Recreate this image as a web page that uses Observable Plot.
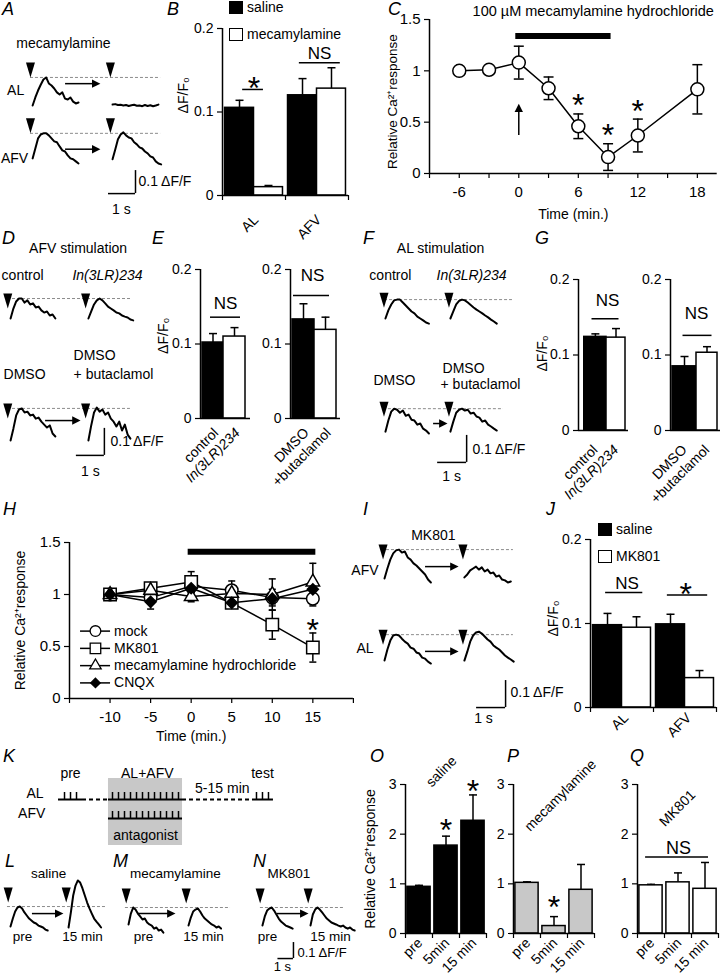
<!DOCTYPE html>
<html><head><meta charset="utf-8">
<script src="https://cdn.jsdelivr.net/npm/d3@7"></script>
<script src="https://cdn.jsdelivr.net/npm/@observablehq/plot@0.6"></script>
<style>
body{margin:0;background:#fff;}
#root{position:relative;width:720px;height:975px;overflow:hidden;font-family:"Liberation Sans",Arial,sans-serif;font-size:14px;color:#000;background:#fff;}
.lab{position:absolute;font-style:italic;font-size:18px;line-height:1;}
.leg{position:absolute;font-size:14px;line-height:14px;display:flex;align-items:center;white-space:nowrap;}
.sw{display:inline-block;width:14px;height:13px;border:1.5px solid #000;box-sizing:border-box;margin-right:4px;}
</style></head><body><div id="root"></div>
<script>
// ================= DATA =================
// B
const B_groups = ["AL", "AFV"];
const B_saline = [0.105, 0.120];
const B_salineErr = [0.009, 0.020];
const B_mec = [0.010, 0.128];
const B_mecErr = [0.002, 0.025];
// C
const C_time = [-6, -3, 0, 3, 6, 9, 12, 18];
const C_mean = [1.00, 1.01, 1.08, 0.83, 0.46, 0.16, 0.37, 0.82];
const C_err = [0, 0, 0.16, 0.11, 0.12, 0.13, 0.16, 0.24];
const C_sigTime = [6, 9, 12];
const C_sigY = [0.74, 0.45, 0.69];
const C_drug = [0, 9];
// E
const E1_cats = ["control", "In(3LR)234"];
const E1_mean = [0.102, 0.110];
const E1_err = [0.012, 0.012];
const E2_cats = ["DMSO", "+butaclamol"];
const E2_mean = [0.133, 0.119];
const E2_err = [0.021, 0.017];
// G
const G1_mean = [0.124, 0.123];
const G1_err = [0.004, 0.012];
const G2_mean = [0.085, 0.103];
const G2_err = [0.013, 0.008];
// H
const H_time = [-10, -5, 0, 5, 10, 15];
const H_names = ["mock", "MK801", "mecamylamine hydrochloride", "CNQX"];
const H_mock = [1.00, 0.97, 1.08, 1.04, 0.97, 0.96];
const H_mockErr = [0.02, 0.05, 0.06, 0.09, 0.08, 0.07];
const H_mk = [1.00, 1.06, 1.12, 0.92, 0.71, 0.49];
const H_mkErr = [0.02, 0.04, 0.10, 0.05, 0.14, 0.14];
const H_mec = [1.00, 1.04, 0.98, 1.01, 1.00, 1.12];
const H_mecErr = [0.02, 0.05, 0.05, 0.07, 0.15, 0.18];
const H_cnqx = [1.00, 0.93, 1.06, 0.92, 0.96, 1.05];
const H_cnqxErr = [0.03, 0.07, 0.04, 0.04, 0.05, 0.05];
const H_drug = [0, 15];
// J
const J_groups = ["AL", "AFV"];
const J_saline = [0.098, 0.099];
const J_salineErr = [0.014, 0.012];
const J_mk = [0.095, 0.035];
const J_mkErr = [0.013, 0.009];
// O P Q
const OPQ_cats = ["pre", "5min", "15 min"];
const O_mean = [0.94, 1.77, 2.27];
const O_err = [0.03, 0.19, 0.52];
const P_mean = [1.02, 0.15, 0.88];
const P_err = [0.02, 0.19, 0.51];
const Q_mean = [0.97, 1.03, 0.90];
const Q_err = [0.02, 0.19, 0.53];
// K (schematic stimulus times, arbitrary pulse units)
const K_pre = [1, 2, 3];
const K_train = [9, 10, 11, 12, 13, 14, 15, 16, 17, 18, 19, 20];
const K_test = [33, 34, 35];
// Example Ca2+ traces (ΔF/F relative to baseline, sampled at fixed steps)
const A_AL_pre = [0, 0.035, 0.065, 0.09, 0.113, 0.122, 0.096, 0.087, 0.074, 0.057, 0.048, 0.057, 0.03, 0.026, 0.035, 0.017, 0.009, 0.013];
const A_AL_post = [0.004, 0.006, 0.002, 0.003, 0, 0.002, -0.002, 0.001, 0.003, -0.001, 0, -0.003, 0.002, -0.002, 0.001, -0.003, 0, 0.004];
const A_AFV_pre = [0, 0.043, 0.087, 0.104, 0.109, 0.109, 0.1, 0.087, 0.074, 0.07, 0.052, 0.035, 0.03, 0.013, 0, -0.004, -0.013, -0.022];
const A_AFV_post = [-0.004, 0.039, 0.083, 0.104, 0.113, 0.1, 0.091, 0.087, 0.07, 0.061, 0.048, 0.043, 0.03, 0.022, 0.009, 0.004, -0.013, -0.022, -0.026];
const D_control = [0, 0.037, 0.063, 0.074, 0.074, 0.059, 0.067, 0.052, 0.056, 0.041, 0.044, 0.03, 0.022, 0.026, 0.011, 0.015, 0];
const D_in = [0, 0.026, 0.052, 0.067, 0.074, 0.067, 0.056, 0.044, 0.037, 0.03, 0.022, 0.019, 0.011, 0.007, 0.004, -0.004, -0.007];
const D_dmso = [0, 0.044, 0.093, 0.115, 0.119, 0.104, 0.107, 0.093, 0.096, 0.081, 0.085, 0.07, 0.059, 0.048, 0.056, 0.026, 0.015];
const D_buta = [0, 0.056, 0.104, 0.122, 0.107, 0.115, 0.096, 0.104, 0.081, 0.07, 0.052, 0.07, 0.037, 0.059, 0.022, 0.007];
const F_control = [0, 0.03, 0.052, 0.067, 0.07, 0.07, 0.059, 0.048, 0.037, 0.026, 0.019, 0.007, 0, -0.007, -0.015, -0.019];
const F_in = [0, 0.026, 0.052, 0.065, 0.07, 0.067, 0.059, 0.05, 0.041, 0.033, 0.026, 0.019, 0.011, 0.004, -0.004, -0.011, -0.019];
const F_dmso = [0, 0.041, 0.074, 0.085, 0.081, 0.07, 0.078, 0.059, 0.063, 0.044, 0.041, 0.026, 0.03, 0.011, 0.004, -0.007];
const F_buta = [0, 0.037, 0.07, 0.081, 0.085, 0.078, 0.081, 0.067, 0.07, 0.056, 0.052, 0.037, 0.041, 0.026, 0.019, 0.011, 0.004];
const I_AFV_pre = [0, 0.037, 0.07, 0.093, 0.104, 0.107, 0.096, 0.1, 0.078, 0.07, 0.056, 0.048, 0.037, 0.026, 0.015, -0.004, -0.015];
const I_AFV_post = [0.004, 0.015, 0.03, 0.037, 0.044, 0.033, 0.041, 0.026, 0.033, 0.019, 0.022, 0.007, 0.011, -0.004, -0.007, -0.015, -0.011];
const I_AL_pre = [0, 0.041, 0.074, 0.093, 0.096, 0.093, 0.081, 0.07, 0.063, 0.048, 0.044, 0.03, 0.026, 0.011, 0.007, -0.004, -0.011];
const I_AL_post = [0, 0.033, 0.07, 0.093, 0.104, 0.107, 0.1, 0.089, 0.078, 0.07, 0.056, 0.048, 0.041, 0.03, 0.019, 0.011, 0.004, -0.004];
const L_pre = [0, 0.05, 0.094, 0.119, 0.125, 0.113, 0.088, 0.069, 0.05, 0.038, 0.025, 0.019, 0.006, 0, -0.006, -0.019, -0.025];
const L_post = [-0.006, 0.088, 0.194, 0.256, 0.288, 0.275, 0.238, 0.194, 0.15, 0.113, 0.081, 0.05, 0.031, 0.013, -0.006];
const M_pre = [0.013, 0.081, 0.119, 0.106, 0.081, 0.063, 0.044, 0.05, 0.025, 0.013, 0.006, -0.013, -0.006, -0.025, -0.019, -0.038];
const M_post = [0.006, 0.056, 0.094, 0.106, 0.113, 0.094, 0.069, 0.05, 0.038, 0.025, 0.013, 0.006, -0.006, 0, -0.013];
const N_pre = [0.006, 0.063, 0.1, 0.113, 0.119, 0.1, 0.075, 0.05, 0.031, 0.019, 0.006, 0, -0.006, -0.013];
const N_post = [0.006, 0.075, 0.106, 0.119, 0.106, 0.088, 0.069, 0.05, 0.038, 0.025, 0.019, 0.013, 0.006, 0, 0.006, -0.006, -0.013, -0.006, -0.019, -0.025];

// ================= HELPERS =================
const FONT = '"Liberation Sans", Arial, Helvetica, sans-serif';
const root = document.getElementById("root");
const baseStyle = {fontFamily: FONT, fontSize: "14px", overflow: "visible", background: "none", color: "black"};
function place(el, left, top) { el.style.position = "absolute"; el.style.left = left + "px"; el.style.top = top + "px"; root.appendChild(el); }
function html(cls, left, top, inner) { const d = document.createElement("div"); d.className = cls; d.style.left = left + "px"; d.style.top = top + "px"; d.innerHTML = inner; root.appendChild(d); }
const triDown = {draw(c, s) { const r = Math.sqrt(s / Math.PI); c.moveTo(-0.9 * r, -3 * r); c.lineTo(0.9 * r, -3 * r); c.lineTo(0, 0); c.closePath(); }};
const headRight = {draw(c, s) { const r = Math.sqrt(s / Math.PI); c.moveTo(0, 0); c.lineTo(-2 * r, -r); c.lineTo(-2 * r, r); c.closePath(); }};
const headUp = {draw(c, s) { const r = Math.sqrt(s / Math.PI); c.moveTo(0, 0); c.lineTo(-r, 2 * r); c.lineTo(r, 2 * r); c.closePath(); }};
const hcap = {draw(c, s) { const r = Math.sqrt(s / Math.PI); c.moveTo(-r, 0); c.lineTo(r, 0); }};
const fmt = d => String(d);
const K = "black";

function txt(s, x, y, o = {}) { return Plot.text([s], {x, y, text: d => d, lineAnchor: "middle", fontSize: 14, ...o}); }
function star(x, y, fs = 32) { return Plot.text(["*"], {x, y, text: d => d, fontSize: fs, lineAnchor: "middle", dy: 0.27 * fs}); }
function ns(x, y, fs = 17) { return Plot.text(["NS"], {x, y, text: d => d, fontSize: fs, lineAnchor: "middle"}); }
function hline(y, x1, x2, w = 1.5) { return Plot.ruleY([y], {x1, x2, stroke: K, strokeWidth: w}); }
function bars(rows) { return d3.groups(rows, d => d.fill).map(([fill, rs]) => Plot.rectY(rs, {x1: "x1", x2: "x2", y1: 0, y2: "y", fill, stroke: K, strokeWidth: 1.5})); }
function errs(rows, both = false, cap = 4) {
  const r = rows.filter(d => d.e > 0);
  const m = [
    Plot.ruleX(r, {x: "x", y1: d => both ? d.y - d.e : d.y, y2: d => d.y + d.e, stroke: K, strokeWidth: 1.5}),
    Plot.dot(r, {x: "x", y: d => d.y + d.e, symbol: hcap, r: cap, stroke: K, strokeWidth: 1.5, fill: "none"})
  ];
  if (both) m.push(Plot.dot(r, {x: "x", y: d => d.y - d.e, symbol: hcap, r: cap, stroke: K, strokeWidth: 1.5, fill: "none"}));
  return m;
}
function axes(x0, yTicks, xTicks, yFmt = fmt) {
  const m = [
    Plot.axisY({ticks: yTicks, tickFormat: yFmt, tickSize: 5, label: null, strokeWidth: 1.2}),
    Plot.ruleX([x0], {stroke: K, strokeWidth: 1.5}),
    Plot.ruleY([0], {stroke: K, strokeWidth: 1.5})
  ];
  if (xTicks) m.push(Plot.axisX({ticks: xTicks, tickFormat: () => "", tickSize: 5, label: null, strokeWidth: 1.2}));
  return m;
}
function grouped(groups, series, offs) {
  const rows = [];
  groups.forEach((g, i) => series.forEach((s, j) => rows.push({x1: i + offs[j][0], x2: i + offs[j][1], x: i + (offs[j][0] + offs[j][1]) / 2, y: s.mean[i], e: s.err[i], fill: s.fill})));
  return rows;
}
function catLabels(labels, xs, dx, dy, italics = []) {
  return labels.map((s, i) => Plot.text([s], {x: xs[i], y: 0, text: d => d, rotate: -45, textAnchor: "end", lineAnchor: "middle", fontSize: 14, dx, dy, fontStyle: italics[i] ? "italic" : "normal"}));
}

function tracePanel(cfg) {
  const {S, V, width, height, dt} = cfg;
  const fs = cfg.fontSize || 14;
  const marks = [];
  const ink = {stroke: K, strokeWidth: 2, strokeLinejoin: "round", strokeLinecap: "round"};
  for (const row of cfg.rows) {
    const level = row.base + d3.max(row.traces[0].values);
    marks.push(Plot.ruleY([level], {x1: row.dash[0], x2: row.dash[1], stroke: "#8c8c8c", strokeWidth: 1, strokeDasharray: "3,2"}));
    for (const tr of row.traces) {
      marks.push(Plot.line(tr.values, {x: (d, i) => tr.t0 + i * dt, y: d => row.base + d, ...ink}));
      marks.push(Plot.dot([tr.t0 - cfg.triGap], {x: d => d, y: () => level + cfg.triLift, symbol: triDown, r: 5, fill: K, stroke: "none"}));
    }
    if (row.arrow) {
      const ay = row.base + row.arrow.df;
      marks.push(Plot.ruleY([ay], {x1: row.arrow.t1, x2: row.arrow.t2 - 4 / S, stroke: K, strokeWidth: 1.5}));
      marks.push(Plot.dot([row.arrow.t2], {x: d => d, y: () => ay, symbol: headRight, r: 4.2, fill: K, stroke: "none"}));
    }
  }
  const sb = cfg.scale;
  marks.push(Plot.ruleX([sb.t], {y1: sb.f, y2: sb.f + 0.1, stroke: K, strokeWidth: 1.5}));
  marks.push(Plot.ruleY([sb.f], {x1: sb.t - 1, x2: sb.t, stroke: K, strokeWidth: 1.5}));
  for (const t of cfg.texts) marks.push(txt(t.s, t.t, t.f, {textAnchor: t.a || "middle", fontStyle: t.i ? "italic" : "normal", fontSize: t.fs || fs}));
  const svg = Plot.plot({width, height, margin: 0, x: {domain: [0, width / S], axis: null}, y: {domain: [0, height / V], axis: null}, style: baseStyle, marks});
  place(svg, cfg.left, cfg.top);
}

// ================= PANEL A =================
tracePanel({left: 0, top: 30, width: 200, height: 190, S: 27, V: 230, dt: 0.1, triGap: 0.08, triLift: 0,
  rows: [
    {base: 0.50, dash: [1.11, 5.93], traces: [{t0: 1.19, values: A_AL_pre}, {t0: 4.15, values: A_AL_post}], arrow: {t1: 2.41, t2: 3.70, df: 0.095}},
    {base: 0.27, dash: [1.11, 5.93], traces: [{t0: 1.19, values: A_AFV_pre}, {t0: 4.15, values: A_AFV_post}], arrow: {t1: 2.41, t2: 3.70, df: 0.04}}
  ],
  scale: {t: 5.0, f: 0.117},
  texts: [{t: 2.33, f: 0.77, s: "mecamylamine"}, {t: 0.56, f: 0.565, s: "AL"}, {t: 0.52, f: 0.27, s: "AFV"},
    {t: 5.11, f: 0.17, s: "0.1 ΔF/F", a: "start"}, {t: 4.48, f: 0.048, s: "1 s"}]
});

// ================= PANEL B =================
{
  const offs = [[0.04, 0.5], [0.5, 0.96]];
  const rows = grouped(B_groups, [{mean: B_saline, err: B_salineErr, fill: "black"}, {mean: B_mec, err: B_mecErr, fill: "white"}], offs);
  const W = 63;
  const svg = Plot.plot({width: 72 + 2 * W + 10, height: 230, marginLeft: 72, marginRight: 10, marginTop: 28, marginBottom: 35,
    x: {domain: [0, 2], axis: null}, y: {domain: [0, 0.2], axis: null}, style: baseStyle,
    marks: [
      ...bars(rows), ...errs(rows), ...axes(0, [0, 0.1, 0.2], [0, 1, 2], d => d === 0 ? "0" : String(d)),
      ...catLabels(B_groups, [0.5, 1.5], 2, 22),
      txt("ΔF/F₀", 0, 0.12, {rotate: -90, dx: -39}),
      star(0.5, 0.138), hline(0.127, 0.32, 0.65),
      ns(1.54, 0.170), hline(0.159, 1.22, 1.87)
    ]});
  place(svg, 150, 0);
  html("leg", 229, 0, '<span class="sw" style="background:#000"></span><span>saline</span>');
  html("leg", 229, 27, '<span class="sw" style="background:#fff"></span><span>mecamylamine</span>');
}

// ================= PANEL C =================
{
  const rows = C_time.map((t, i) => ({x: t, y: C_mean[i], e: C_err[i]}));
  const svg = Plot.plot({width: 340, height: 225, marginLeft: 49, marginRight: 3.3, marginTop: 19, marginBottom: 52,
    x: {domain: [-9, 20], axis: null}, y: {domain: [0, 1.5], axis: null}, style: baseStyle,
    marks: [
      Plot.axisY({ticks: [0, 0.5, 1, 1.5], tickFormat: fmt, tickSize: 5, label: null, strokeWidth: 1.2, fontSize: 15}),
      Plot.axisX({ticks: d3.range(-9, 21, 3), tickFormat: d => [-6, 0, 6, 12, 18].includes(d) ? String(d) : "", tickSize: 5, tickPadding: 8, label: null, strokeWidth: 1.2, fontSize: 15}),
      Plot.ruleX([-9], {stroke: K, strokeWidth: 1.5}), Plot.ruleY([0], {stroke: K, strokeWidth: 1.5}),
      Plot.ruleY([1.34], {x1: C_drug[0], x2: C_drug[1], stroke: K, strokeWidth: 6, strokeLinecap: "square"}),
      Plot.line(rows, {x: "x", y: "y", stroke: K, strokeWidth: 1.5}),
      ...errs(rows, true, 5),
      Plot.dot(rows, {x: "x", y: "y", r: 6.5, fill: "white", stroke: K, strokeWidth: 1.5}),
      Plot.ruleX([0], {y1: 0.37, y2: 0.62, stroke: K, strokeWidth: 1.5}),
      Plot.dot([0], {x: d => d, y: () => 0.68, symbol: headUp, r: 4.2, fill: K, stroke: "none"}),
      ...C_sigTime.map((t, i) => star(t, C_sigY[i])),
      txt("100 µM mecamylamine hydrochloride", 7.5, 1.5, {dy: -8, fontSize: 14.5}),
      txt("Relative Ca²⁺response", -9, 0.70, {rotate: -90, dx: -37, fontSize: 13.5}),
      txt("Time (min.)", 5.5, 0, {dy: 41})
    ]});
  place(svg, 380, 0);
}

// ================= PANEL D =================
tracePanel({left: 0, top: 240, width: 160, height: 240, S: 28, V: 270, dt: 0.1, triGap: 0.1, triLift: -0.037,
  rows: [
    {base: 0.60, dash: [0.25, 4.71], traces: [{t0: 0.36, values: D_control}, {t0: 3.14, values: D_in}]},
    {base: 0.148, dash: [0.25, 4.64], traces: [{t0: 0.36, values: D_dmso}, {t0: 3.14, values: D_buta}], arrow: {t1: 1.61, t2: 2.86, df: 0.074}}
  ],
  scale: {t: 3.71, f: 0.093},
  texts: [{t: 2.77, f: 0.86, s: "AFV stimulation"}, {t: 0.79, f: 0.76, s: "control"}, {t: 3.82, f: 0.76, s: "In(3LR)234", i: true},
    {t: 0.11, f: 0.393, s: "DMSO", a: "start"}, {t: 2.61, f: 0.463, s: "DMSO", a: "start"}, {t: 2.61, f: 0.393, s: "+ butaclamol", a: "start"},
    {t: 3.93, f: 0.144, s: "0.1 ΔF/F", a: "start"}, {t: 3.21, f: 0.033, s: "1 s"}]
});

// ================= PANEL F =================
tracePanel({left: 360, top: 240, width: 165, height: 240, S: 29, V: 270, dt: 0.1, triGap: 0.05, triLift: -0.03,
  rows: [
    {base: 0.60, dash: [0.83, 5.24], traces: [{t0: 0.86, values: F_control}, {t0: 3.10, values: F_in}]},
    {base: 0.181, dash: [0.79, 4.93], traces: [{t0: 0.86, values: F_dmso}, {t0: 3.10, values: F_buta}], arrow: {t1: 2.52, t2: 3.0, df: 0.03}}
  ],
  scale: {t: 3.66, f: 0.067},
  texts: [{t: 2.76, f: 0.86, s: "AL stimulation"}, {t: 1.03, f: 0.76, s: "control"}, {t: 3.83, f: 0.76, s: "In(3LR)234", i: true},
    {t: 1.17, f: 0.37, s: "DMSO"}, {t: 2.83, f: 0.415, s: "DMSO", a: "start"}, {t: 2.76, f: 0.356, s: "+ butaclamol", a: "start"},
    {t: 3.86, f: 0.115, s: "0.1 ΔF/F", a: "start"}, {t: 3.14, f: 0.015, s: "1 s"}]
});

// ================= PANELS E & G (mini bar charts) =================
function mini(o) {
  const rows = o.mean.map((m, i) => ({x1: o.offs[i][0], x2: o.offs[i][1], x: (o.offs[i][0] + o.offs[i][1]) / 2, y: m, e: o.err[i], fill: i === 0 ? "black" : "white"}));
  const marks = [
    ...bars(rows), ...errs(rows), ...axes(0, [0, 0.1, 0.2], null, d => d === 0 ? "0" : String(d)),
    ...catLabels(o.cats, rows.map(d => d.x), o.ldx, o.ldy, o.italics || []),
    ns(o.ns[0], o.ns[1]), hline(o.ns[2], o.ns[3], o.ns[4])
  ];
  if (o.ylab) marks.push(txt("ΔF/F₀", 0, o.ylab[1], {rotate: -90, dx: o.ylab[0]}));
  const svg = Plot.plot({width: o.ml + 50 + o.mr, height: o.height, marginLeft: o.ml, marginRight: o.mr, marginTop: o.mt, marginBottom: o.mb,
    x: {domain: [0, 1], axis: null}, y: {domain: [0, 0.2], axis: null}, style: baseStyle, marks});
  place(svg, o.left, o.top);
}
mini({left: 150, top: 250, height: 240, ml: 50, mr: 10, mt: 19, mb: 72, mean: E1_mean, err: E1_err, cats: E1_cats, italics: [false, true],
  offs: [[0.04, 0.46], [0.46, 0.9]], ldx: 3, ldy: 12, ns: [0.5, 0.154, 0.136, 0.2, 0.8], ylab: [-37, 0.111]});
mini({left: 255, top: 250, height: 240, ml: 35, mr: 10, mt: 19, mb: 72, mean: E2_mean, err: E2_err, cats: E2_cats,
  offs: [[0.04, 0.48], [0.48, 0.92]], ldx: 3, ldy: 12, ns: [0.44, 0.192, 0.165, 0.06, 0.78]});
mini({left: 530, top: 250, height: 240, ml: 48, mr: 10, mt: 29, mb: 60, mean: G1_mean, err: G1_err, cats: E1_cats, italics: [false, true],
  offs: [[0.115, 0.56], [0.56, 0.94]], ldx: 0, ldy: 17, ns: [0.58, 0.172, 0.148, 0.27, 0.81], ylab: [-36, 0.102]});
mini({left: 640, top: 250, height: 240, ml: 30, mr: 2, mt: 29, mb: 60, mean: G2_mean, err: G2_err, cats: E2_cats,
  offs: [[0.04, 0.52], [0.52, 0.94]], ldx: 0, ldy: 17, ns: [0.52, 0.155, 0.126, 0.25, 0.83]});

// ================= PANEL H =================
{
  const series = [
    {mean: H_mock, err: H_mockErr, symbol: "circle", r: 6.3, fill: "white"},
    {mean: H_mk, err: H_mkErr, symbol: "square", r: 7, fill: "white"},
    {mean: H_mec, err: H_mecErr, symbol: "triangle", r: 5, fill: "white"},
    {mean: H_cnqx, err: H_cnqxErr, symbol: "diamond2", r: 5, fill: "black"}
  ];
  const marks = [
    Plot.axisY({ticks: [0, 0.5, 1, 1.5], tickFormat: fmt, tickSize: 5, label: null, strokeWidth: 1.2, fontSize: 15}),
    Plot.axisX({ticks: d3.range(-15, 21, 5), tickFormat: d => (d === -15 || d === 20) ? "" : String(d), tickSize: 5, tickPadding: 8, label: null, strokeWidth: 1.2, fontSize: 15}),
    Plot.ruleX([-15], {stroke: K, strokeWidth: 1.5}), Plot.ruleY([0], {stroke: K, strokeWidth: 1.5}),
    Plot.ruleY([1.41], {x1: H_drug[0], x2: H_drug[1], stroke: K, strokeWidth: 6, strokeLinecap: "square"})
  ];
  series.forEach(s => {
    const rows = H_time.map((t, i) => ({x: t, y: s.mean[i], e: s.err[i]}));
    marks.push(Plot.line(rows, {x: "x", y: "y", stroke: K, strokeWidth: 1.5}));
    marks.push(...errs(rows, true, 3.5));
  });
  series.forEach(s => {
    const rows = H_time.map((t, i) => ({x: t, y: s.mean[i]}));
    marks.push(Plot.dot(rows, {x: "x", y: "y", symbol: s.symbol, r: s.r, fill: s.fill, stroke: K, strokeWidth: 1.5}));
  });
  series.forEach((s, i) => {
    const ly = 0.648 - i * 0.166;
    marks.push(hline(ly, -13.64, -9.94));
    marks.push(Plot.dot([ly], {x: () => -11.8, y: d => d, symbol: s.symbol, r: s.r * 0.85, fill: s.fill, stroke: K, strokeWidth: 1.3}));
    marks.push(txt(H_names[i], -9.5, ly, {textAnchor: "start"}));
  });
  marks.push(star(15, 0.73));
  marks.push(txt("Relative Ca²⁺response", -15, 0.75, {rotate: -90, dx: -49}));
  marks.push(txt("Time (min.)", 0, 0, {dy: 38}));
  const svg = Plot.plot({width: 360, height: 230, marginLeft: 69, marginRight: 7.1, marginTop: 22, marginBottom: 52,
    x: {domain: [-15, 20], axis: null}, y: {domain: [0, 1.5], axis: null}, style: baseStyle, marks});
  place(svg, 0, 520);
}

// ================= PANEL I =================
tracePanel({left: 345, top: 525, width: 215, height: 205, S: 29, V: 270, dt: 0.1, triGap: 0.05, triLift: -0.037,
  rows: [
    {base: 0.563, dash: [1.24, 5.79], traces: [{t0: 1.345, values: I_AFV_pre}, {t0: 4.10, values: I_AFV_post}], arrow: {t1: 2.76, t2: 3.9, df: 0.044}},
    {base: 0.259, dash: [1.24, 5.79], traces: [{t0: 1.345, values: I_AL_pre}, {t0: 4.10, values: I_AL_post}], arrow: {t1: 2.76, t2: 3.9, df: 0.034}}
  ],
  scale: {t: 5.52, f: 0.085},
  texts: [{t: 3.03, f: 0.722, s: "MK801"}, {t: 1.14, f: 0.593, s: "AFV", a: "end"}, {t: 0.97, f: 0.304, s: "AL", a: "end"},
    {t: 5.69, f: 0.141, s: "0.1 ΔF/F", a: "start"}, {t: 4.76, f: 0.044, s: "1 s"}]
});

// ================= PANEL J =================
{
  const offs = [[0.04, 0.5], [0.5, 0.96]];
  const rows = grouped(J_groups, [{mean: J_saline, err: J_salineErr, fill: "black"}, {mean: J_mk, err: J_mkErr, fill: "white"}], offs);
  const svg = Plot.plot({width: 190, height: 240, marginLeft: 60, marginRight: 4, marginTop: 39, marginBottom: 33,
    x: {domain: [0, 2], axis: null}, y: {domain: [0, 0.2], axis: null}, style: baseStyle,
    marks: [
      ...bars(rows), ...errs(rows), ...axes(0, [0, 0.1, 0.2], [0, 1, 2], d => d === 0 ? "0" : String(d)),
      ...catLabels(J_groups, [0.5, 1.5], 4, 8),
      txt("ΔF/F₀", 0, 0.106, {rotate: -90, dx: -37}),
      ns(0.58, 0.148), hline(0.137, 0.24, 0.83),
      star(1.51, 0.145), hline(0.134, 1.22, 1.86)
    ]});
  place(svg, 530, 500);
  html("leg", 598, 522, '<span class="sw" style="background:#000"></span><span>saline</span>');
  html("leg", 598, 549, '<span class="sw" style="background:#fff"></span><span>MK801</span>');
}

// ================= PANEL K (protocol schematic) =================
{
  const AL = 2, AFV = 1, tickH = 0.37;
  const svg = Plot.plot({width: 290, height: 85, margin: 0,
    x: {domain: [-9.67, 38.67], axis: null}, y: {domain: [-0.684, 3.79], axis: null}, style: baseStyle,
    marks: [
      Plot.rect([0], {x1: 8.33, x2: 20.67, y1: -0.42, y2: 3.105, fill: "#c8c8c8"}),
      hline(AL, 0, 4, 2), hline(AL, 8.33, 20.67, 2), hline(AL, 32.33, 35.83, 2), hline(AFV, 8.33, 20.67, 2),
      Plot.ruleY([AL], {x1: 4, x2: 8.33, stroke: K, strokeWidth: 2, strokeDasharray: "4,3"}),
      Plot.ruleY([AL], {x1: 20.67, x2: 32.33, stroke: K, strokeWidth: 2, strokeDasharray: "4,3"}),
      Plot.ruleX([...K_pre, ...K_train, ...K_test], {y1: AL, y2: AL + tickH, stroke: K, strokeWidth: 1.5}),
      Plot.ruleX(K_train, {y1: AFV, y2: AFV + tickH, stroke: K, strokeWidth: 1.5}),
      txt("pre", 2, 3.37), txt("AL+AFV", 14.8, 3.37), txt("test", 34, 3.37), txt("5-15 min", 27.3, 2.58),
      txt("antagonist", 14.5, 0.105), txt("AL", -2.5, 2.32, {textAnchor: "end"}), txt("AFV", -2.2, 1.26, {textAnchor: "end"})
    ]});
  place(svg, 0, 765);
}

// ================= PANELS L, M, N =================
tracePanel({left: 0, top: 850, width: 370, height: 125, S: 15.5, V: 160, dt: 0.15, triGap: 0.15, triLift: 0.025, fontSize: 13.5,
  rows: [
    {base: 0.306, dash: [0.45, 6.9], traces: [{t0: 0.645, values: L_pre}, {t0: 4.39, values: L_post}], arrow: {t1: 2.06, t2: 4.06, df: 0.081}},
    {base: 0.306, dash: [8.06, 14.84], traces: [{t0: 8.26, values: M_pre}, {t0: 12.13, values: M_post}], arrow: {t1: 8.9, t2: 11.29, df: 0.081}},
    {base: 0.306, dash: [16.77, 22.13], traces: [{t0: 16.9, values: N_pre}, {t0: 20.0, values: N_post}], arrow: {t1: 17.87, t2: 19.87, df: 0.081}}
  ],
  scale: {t: 18.9, f: 0.106},
  texts: [{t: 3.10, f: 0.6375, s: "saline"}, {t: 11.29, f: 0.6375, s: "mecamylamine"}, {t: 18.6, f: 0.6375, s: "MK801"},
    {t: 1.42, f: 0.245, s: "pre"}, {t: 5.29, f: 0.245, s: "15 min"}, {t: 9.23, f: 0.245, s: "pre"}, {t: 13.1, f: 0.245, s: "15 min"},
    {t: 17.23, f: 0.245, s: "pre"}, {t: 21.29, f: 0.245, s: "15 min"},
    {t: 19.16, f: 0.14, s: "0.1 ΔF/F", a: "start", fs: 13}, {t: 18.19, f: 0.055, s: "1 s", fs: 13}]
});

// ================= PANELS O, P, Q =================
function opq(o) {
  const rows = OPQ_cats.map((c, i) => ({x1: i + 0.07, x2: i + 0.93, x: i + 0.5, y: o.mean[i], e: o.err[i], fill: o.fill}));
  const marks = [
    ...bars(rows), ...errs(rows), ...axes(0, [0, 1, 2, 3], [0, 1, 2, 3]),
    ...catLabels(OPQ_cats, [0.5, 1.5, 2.5], 1, 7),
    txt(o.title, o.tpos[0], o.tpos[1], {rotate: -45}),
    ...(o.extra || [])
  ];
  if (o.ylab) marks.push(txt("Relative Ca²⁺response", 0, 1.5, {rotate: -90, dx: -35}));
  const svg = Plot.plot({width: o.ml + 81 + o.mr, height: 215, marginLeft: o.ml, marginRight: o.mr, marginTop: 24, marginBottom: 42,
    x: {domain: [0, 3], axis: null}, y: {domain: [0, 3], axis: null}, style: baseStyle, marks});
  place(svg, o.left, 760);
}
opq({left: 360, ml: 45, mr: 4, mean: O_mean, err: O_err, fill: "black", title: "saline", tpos: [1.33, 3.26], ylab: true,
  extra: [star(1.5, 2.24), star(2.5, 3.02)]});
opq({left: 490, ml: 23, mr: 4, mean: P_mean, err: P_err, fill: "#c8c8c8", title: "mecamylamine", tpos: [1.74, 2.78],
  extra: [star(1.5, 0.70)]});
opq({left: 600, ml: 37, mr: 2, mean: Q_mean, err: Q_err, fill: "white", title: "MK801", tpos: [1.48, 2.52],
  extra: [ns(1.52, 1.71, 18), hline(1.54, 0.3, 2.63)]});

// ================= PANEL LETTERS =================
[["A", 2, 0], ["B", 167, 0], ["C", 388, 0], ["D", 2, 229], ["E", 152, 229], ["F", 363, 229], ["G", 535, 229],
 ["H", 3, 500], ["I", 363, 500], ["J", 546, 500], ["K", 3, 747], ["L", 5, 852], ["M", 113, 852], ["N", 253, 852],
 ["O", 370, 747], ["P", 507, 747], ["Q", 630, 747]].forEach(([s, x, y]) => html("lab", x, y, s));
</script></body></html>
